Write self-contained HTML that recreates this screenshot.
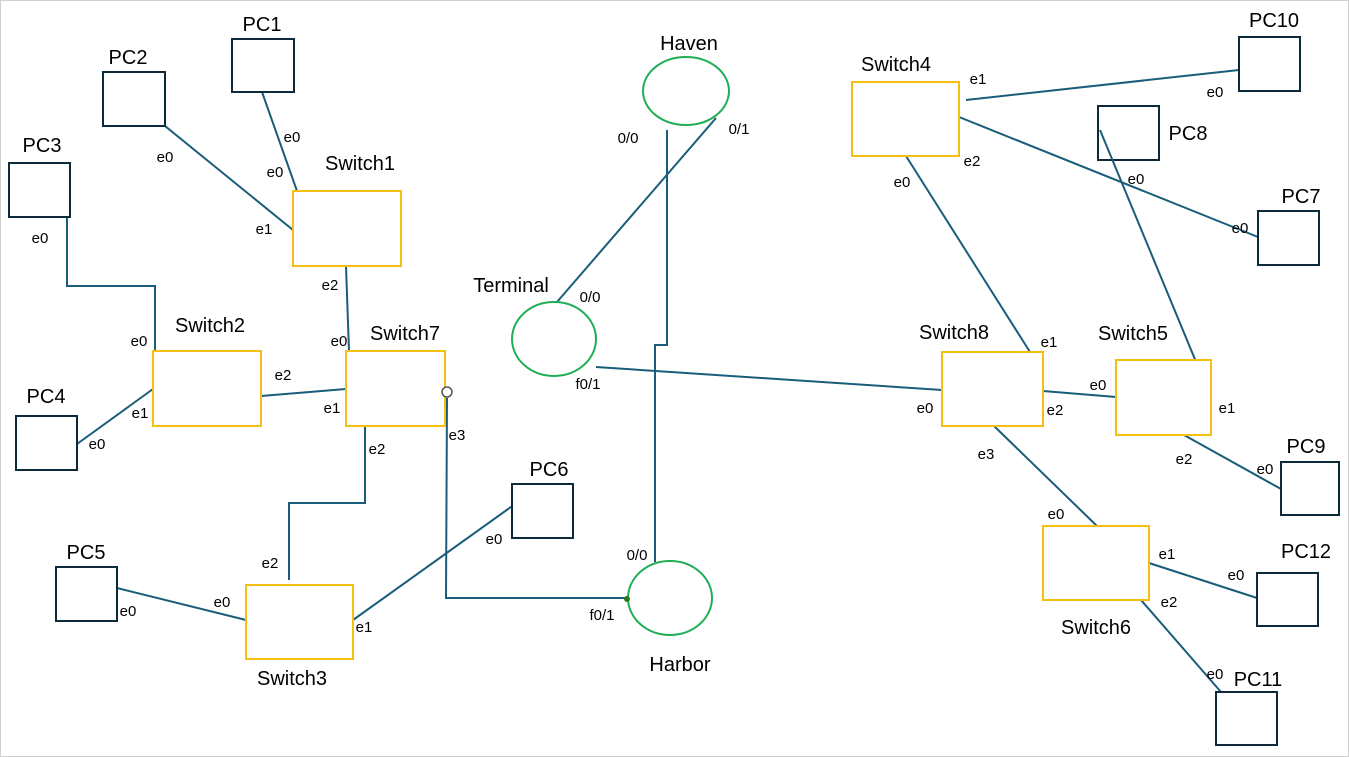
<!DOCTYPE html>
<html><head><meta charset="utf-8"><style>
html,body{margin:0;padding:0;background:#fff;}
svg{display:block;}
text{font-family:"Liberation Sans",sans-serif;fill:#000;}
.big{font-size:20px;}
.sm{font-size:15px;}
.pc{fill:#fff;stroke:#0d2a3a;stroke-width:2;}
.sw{fill:#fff;stroke:#f5bf12;stroke-width:2;}
.rt{fill:#fff;stroke:#1fae55;stroke-width:2;}
.ln{fill:none;stroke:#1a5d7a;stroke-width:2;}
</style></head><body>
<svg width="1349" height="757" viewBox="0 0 1349 757">
<rect x="0.5" y="0.5" width="1348" height="756" fill="#fff" stroke="#d0d0d0"/>
<!-- lines -->
<path class="ln" d="M262,92 L297,191"/>
<path class="ln" d="M165,126 L293,230"/>
<path class="ln" d="M67,217 L67,286 L155,286 L155,351"/>
<path class="ln" d="M77,444 L153,389"/>
<path class="ln" d="M261,396 L346,389"/>
<path class="ln" d="M346,266 L349,351"/>
<path class="ln" d="M365,426 L365,503 L289,503 L289,580"/>
<path class="ln" d="M447,398 L446,598 L627,598"/>
<path class="ln" d="M117,588 L246,620"/>
<path class="ln" d="M353,620 L543,484"/>
<path class="ln" d="M716,118 L557,302"/>
<path class="ln" d="M667,130 L667,345 L655,345 L655,562"/>
<path class="ln" d="M596,367 L942,390"/>
<path class="ln" d="M966,100 L1239,70"/>
<path class="ln" d="M959,117 L1258,237"/>
<path class="ln" d="M906,156 L1030,352"/>
<path class="ln" d="M1043,391 L1116,397"/>
<path class="ln" d="M1184,435 L1281,489"/>
<path class="ln" d="M994,426 L1097,526"/>
<path class="ln" d="M1149,563 L1257,598"/>
<path class="ln" d="M1141,600 L1221,692"/>
<!-- PCs -->
<rect class="pc" x="232" y="39" width="62" height="53"/>
<rect class="pc" x="103" y="72" width="62" height="54"/>
<rect class="pc" x="9" y="163" width="61" height="54"/>
<rect class="pc" x="16" y="416" width="61" height="54"/>
<rect class="pc" x="56" y="567" width="61" height="54"/>
<rect class="pc" x="512" y="484" width="61" height="54"/>
<rect class="pc" x="1258" y="211" width="61" height="54"/>
<rect class="pc" x="1098" y="106" width="61" height="54"/>
<rect class="pc" x="1281" y="462" width="58" height="53"/>
<rect class="pc" x="1239" y="37" width="61" height="54"/>
<rect class="pc" x="1216" y="692" width="61" height="53"/>
<rect class="pc" x="1257" y="573" width="61" height="53"/>
<path class="ln" d="M1100,130 L1211,398"/>
<!-- switches -->
<rect class="sw" x="293" y="191" width="108" height="75"/>
<rect class="sw" x="153" y="351" width="108" height="75"/>
<rect class="sw" x="346" y="351" width="99" height="75"/>
<rect class="sw" x="246" y="585" width="107" height="74"/>
<rect class="sw" x="852" y="82" width="107" height="74"/>
<rect class="sw" x="942" y="352" width="101" height="74"/>
<rect class="sw" x="1116" y="360" width="95" height="75"/>
<rect class="sw" x="1043" y="526" width="106" height="74"/>
<!-- routers -->
<ellipse class="rt" cx="686" cy="91" rx="43" ry="34"/>
<ellipse class="rt" cx="554" cy="339" rx="42" ry="37"/>
<ellipse class="rt" cx="670" cy="598" rx="42" ry="37"/>
<circle cx="447" cy="392" r="5" fill="#fff" stroke="#555" stroke-width="1.5"/>
<circle cx="627" cy="599" r="3" fill="#2a7a1a"/>
<!-- big labels -->
<g class="big" text-anchor="middle">
<text x="262" y="31">PC1</text><text x="128" y="64">PC2</text><text x="42" y="152">PC3</text>
<text x="46" y="403">PC4</text><text x="86" y="559">PC5</text><text x="549" y="476">PC6</text>
<text x="1301" y="203">PC7</text><text x="1188" y="140">PC8</text><text x="1306" y="453">PC9</text>
<text x="1274" y="27">PC10</text><text x="1258" y="686">PC11</text><text x="1306" y="558">PC12</text>
<text x="360" y="170">Switch1</text><text x="210" y="332">Switch2</text><text x="405" y="340">Switch7</text>
<text x="292" y="685">Switch3</text><text x="896" y="71">Switch4</text><text x="954" y="339">Switch8</text>
<text x="1133" y="340">Switch5</text><text x="1096" y="634">Switch6</text>
<text x="689" y="50">Haven</text><text x="511" y="292">Terminal</text><text x="680" y="671">Harbor</text>
</g>
<g class="sm" text-anchor="middle">
<text x="292" y="142">e0</text><text x="275" y="177">e0</text><text x="165" y="162">e0</text><text x="264" y="234">e1</text>
<text x="40" y="243">e0</text><text x="139" y="346">e0</text><text x="140" y="418">e1</text><text x="97" y="449">e0</text>
<text x="283" y="380">e2</text><text x="332" y="413">e1</text><text x="330" y="290">e2</text><text x="339" y="346">e0</text>
<text x="377" y="454">e2</text><text x="457" y="440">e3</text><text x="270" y="568">e2</text>
<text x="128" y="616">e0</text><text x="222" y="607">e0</text><text x="364" y="632">e1</text><text x="494" y="544">e0</text>
<text x="628" y="143">0/0</text><text x="739" y="134">0/1</text><text x="590" y="302">0/0</text><text x="588" y="389">f0/1</text>
<text x="637" y="560">0/0</text><text x="602" y="620">f0/1</text>
<text x="978" y="84">e1</text><text x="1215" y="97">e0</text><text x="972" y="166">e2</text><text x="902" y="187">e0</text>
<text x="1240" y="233">e0</text><text x="1136" y="184">e0</text><text x="1049" y="347">e1</text><text x="1098" y="390">e0</text>
<text x="925" y="413">e0</text><text x="1055" y="415">e2</text><text x="1227" y="413">e1</text><text x="986" y="459">e3</text>
<text x="1184" y="464">e2</text><text x="1265" y="474">e0</text><text x="1056" y="519">e0</text><text x="1167" y="559">e1</text>
<text x="1236" y="580">e0</text><text x="1169" y="607">e2</text><text x="1215" y="679">e0</text>
</g>
</svg>
</body></html>
